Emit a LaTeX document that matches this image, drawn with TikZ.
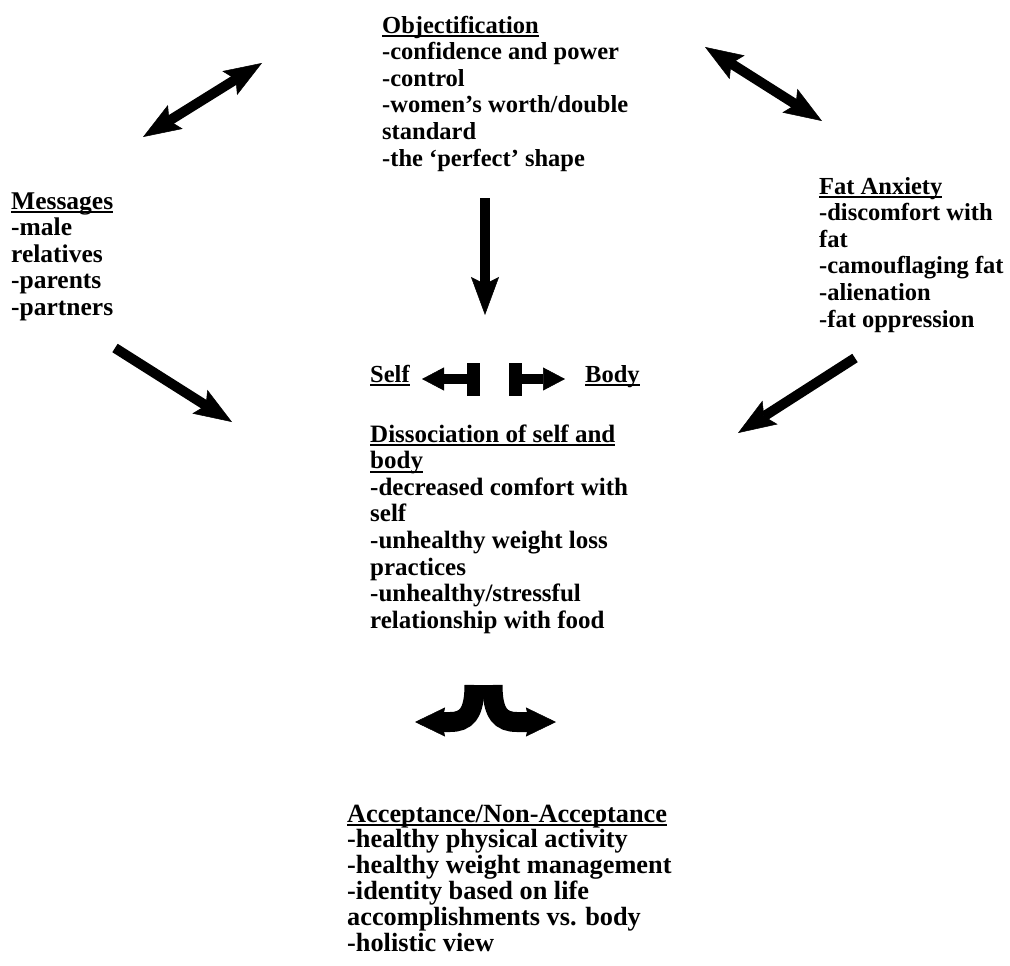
\documentclass[tikz,border=0pt]{standalone}
\usepackage{fontspec}
\setmainfont{Liberation Serif}
\usetikzlibrary{arrows.meta}

% underlined title
\newcommand{\ttl}[1]{\setbox0\hbox{#1}\rlap{\rule[-4pt]{\wd0}{1.6pt}}\box0}

\tikzset{
  lbl/.style={anchor=base west, align=left, inner sep=0pt,
    font=\fontsize{24.5}{26.6}\selectfont\bfseries},
  fat/.style={line width=10pt, -{Stealth[length=38pt,width=28pt,inset=7pt,line width=0.5pt]}},
  fatboth/.style={line width=10pt, {Stealth[length=38pt,width=28pt,inset=7pt,line width=0.5pt]}-{Stealth[length=38pt,width=28pt,inset=7pt,line width=0.5pt]}},
  barhead/.style={line width=10pt, {Rectangle[length=12pt,width=32pt,line width=0.5pt]}-{Triangle[length=22pt,width=23pt,line width=0.5pt]}},
  branch/.style={line width=20pt, -{Stealth[length=30pt,width=29pt,inset=3pt,line width=0.5pt]}}
}

\begin{document}
\begin{tikzpicture}[x=1pt,y=-1pt]
\useasboundingbox (0,0) rectangle (1010,966);

% text blocks (placed at the baseline of their last line)
\node[lbl] (obj) at (382,166) {\ttl{Objectification}\\-confidence and power\\-control\\-women’s worth/double\\standard\\-the ‘perfect’ shape};
\node[lbl, font=\fontsize{25.5}{26.6}\selectfont\bfseries] (msg) at (11,315.4) {\ttl{Messages}\\-male\\relatives\\-parents\\-partners};
\node[lbl] (fat) at (819,327) {\ttl{Fat Anxiety}\\-discomfort with\\fat\\-camouflaging fat\\-alienation\\-fat oppression};
\node[lbl] (self) at (370,382) {\ttl{Self}};
\node[lbl] (body) at (585,382) {\ttl{Body}};
\node[lbl, font=\fontsize{25}{26.6}\selectfont\bfseries] (diss) at (370,628.2) {\ttl{Dissociation of self and}\\\ttl{body}\\-decreased comfort with\\self\\-unhealthy weight loss\\practices\\-unhealthy/stressful\\relationship with food};
\node[lbl, font=\fontsize{26.3}{25.8}\selectfont\bfseries] (acc) at (347,951) {\ttl{Acceptance/Non-Acceptance}\\-healthy physical activity\\-healthy weight management\\-identity based on life\\accomplishments vs. body\\-holistic view};

% arrow ends
\coordinate (tlA) at (143,137);
\coordinate (tlB) at (262,63);
\coordinate (trA) at (705,47);
\coordinate (trB) at (822,121);
\coordinate (dnA) at (485,198);
\coordinate (dnB) at (485,315);
\coordinate (msA) at (115,348);
\coordinate (msB) at (232,422);
\coordinate (faA) at (855,358);
\coordinate (faB) at (738,433);
\coordinate (sbL) at (479,379);
\coordinate (stL) at (422,379);
\coordinate (sbR) at (509,379);
\coordinate (stR) at (565,379);
\coordinate (spL) at (474.5,685);
\coordinate (spR) at (492.5,685);
\coordinate (tipL) at (415,722);
\coordinate (tipR) at (556,722);

\draw[fatboth] (tlA) -- (tlB);
\draw[fatboth] (trA) -- (trB);
\draw[fat] (dnA) -- (dnB);
\draw[fat] (msA) -- (msB);
\draw[fat] (faA) -- (faB);

\draw[barhead] (sbL) -- (stL);
\draw[barhead] (sbR) -- (stR);

\draw[branch] (spL) .. controls (474.5,714) and (466,722) .. (450,722) -- (tipL);
\draw[branch] (spR) .. controls (492.5,714) and (501,722) .. (517,722) -- (tipR);
\end{tikzpicture}
\end{document}
